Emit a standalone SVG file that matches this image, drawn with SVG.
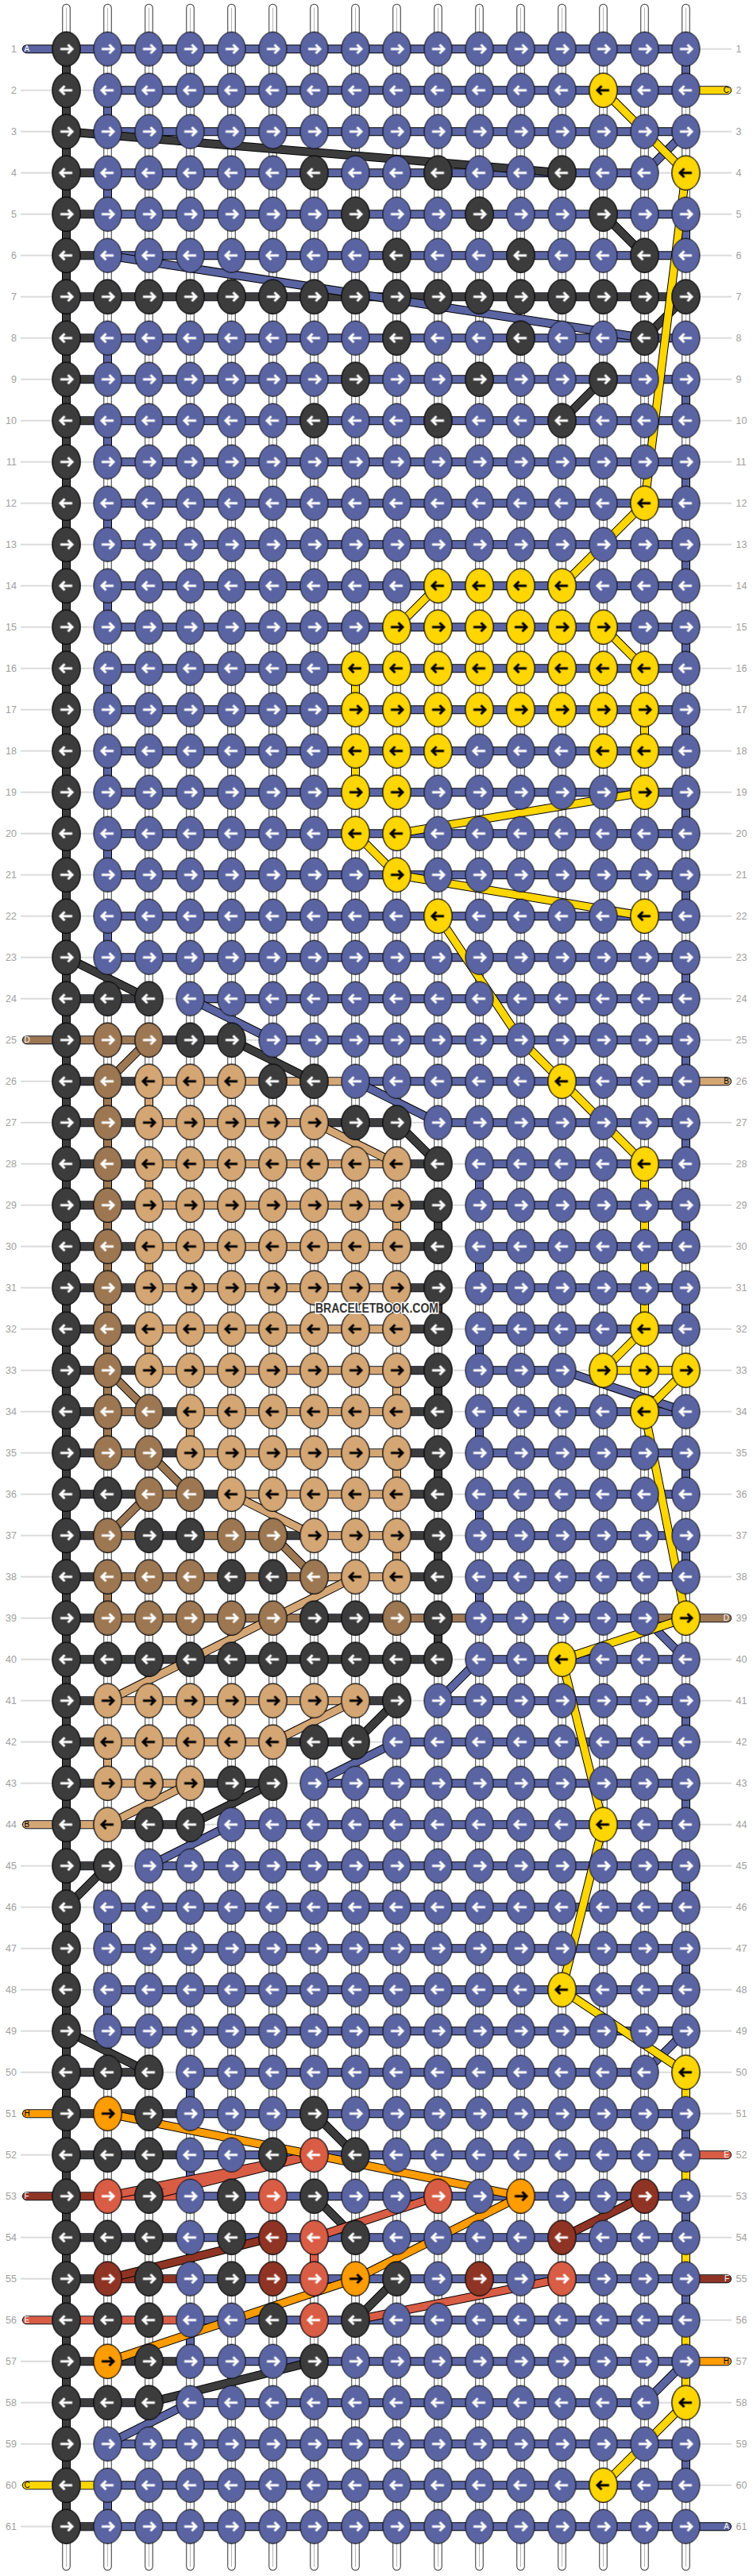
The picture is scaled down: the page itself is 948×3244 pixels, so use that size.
<svg xmlns="http://www.w3.org/2000/svg" xmlns:xlink="http://www.w3.org/1999/xlink" width="948" height="3244" viewBox="0 0 948 3244">
<style>
.lb{font-family:"Liberation Sans",Arial,sans-serif;font-size:12.5px;fill:#a0a0a0}
.el{font-family:"Liberation Sans",Arial,sans-serif;font-size:10px;fill:#000}
.w{fill:#fff}
.r{text-anchor:end}
.th{fill:none;stroke-linecap:round;stroke-linejoin:round}
</style>
<defs>
<g id="e2"><ellipse cx="26" cy="26" rx="17.5" ry="21.5"/><ellipse cx="26" cy="78" rx="17.5" ry="21.5"/></g>
<path id="ar" fill="none" stroke-width="3" stroke-linejoin="miter" d="M18.5 26H33M28 20.5L33.5 26L28 31.5M33.5 78H19M24 72.5L18.5 78L24 83.5"/>
<pattern id="pA" width="52" height="104" patternUnits="userSpaceOnUse"><use href="#e2" fill="#5a64a2" stroke="#000"/><use href="#ar" stroke="#fff"/></pattern>
<pattern id="pd" width="52" height="104" patternUnits="userSpaceOnUse"><use href="#e2" fill="#3c3c3c" stroke="#000"/><use href="#ar" stroke="#fff"/></pattern>
<pattern id="py" width="52" height="104" patternUnits="userSpaceOnUse"><use href="#e2" fill="#ffd600" stroke="#000"/><use href="#ar" stroke="#000"/></pattern>
<pattern id="pt" width="52" height="104" patternUnits="userSpaceOnUse"><use href="#e2" fill="#d4a674" stroke="#000"/><use href="#ar" stroke="#000"/></pattern>
<pattern id="pD" width="52" height="104" patternUnits="userSpaceOnUse"><use href="#e2" fill="#9c7752" stroke="#000"/><use href="#ar" stroke="#fff"/></pattern>
<pattern id="pe" width="52" height="104" patternUnits="userSpaceOnUse"><use href="#e2" fill="#d95c45" stroke="#000"/><use href="#ar" stroke="#fff"/></pattern>
<pattern id="pf" width="52" height="104" patternUnits="userSpaceOnUse"><use href="#e2" fill="#8f3424" stroke="#000"/><use href="#ar" stroke="#fff"/></pattern>
<pattern id="ph" width="52" height="104" patternUnits="userSpaceOnUse"><use href="#e2" fill="#ff9c00" stroke="#000"/><use href="#ar" stroke="#000"/></pattern>
<pattern id="rl" width="52" height="52" patternUnits="userSpaceOnUse"><rect y="25.4" width="52" height="1.2" fill="#c4c4c4"/></pattern>
<path id="vs" d="M26 -25.7V3196.3M78 -25.7V3196.3M130 -25.7V3196.3M182 -25.7V3196.3M234 -25.7V3196.3M286 -25.7V3196.3M338 -25.7V3196.3M390 -25.7V3196.3M442 -25.7V3196.3M494 -25.7V3196.3M546 -25.7V3196.3M598 -25.7V3196.3M650 -25.7V3196.3M702 -25.7V3196.3M754 -25.7V3196.3M806 -25.7V3196.3"/>
<path id="hb" d="M-24 26H806M78 78H858M78 130H806M26 182H754M26 234H806M26 286H806M26 338H806M26 390H806M26 442H806M26 494H806M78 546H806M78 598H806M78 650H806M78 702H806M78 754H806M78 806H806M78 858H806M78 910H806M78 962H806M78 1014H806M78 1066H806M78 1118H806M78 1170H806M26 1222H130M182 1222H806M-24 1274H234M286 1274H806M26 1326H858M26 1378H442M494 1378H806M26 1430H494M546 1430H806M26 1482H494M546 1482H806M26 1534H494M546 1534H806M26 1586H494M546 1586H806M26 1638H494M546 1638H806M26 1690H494M546 1690H650M702 1690H806M26 1742H494M546 1742H806M26 1794H494M546 1794H806M26 1846H494M546 1846H806M26 1898H494M546 1898H806M26 1950H494M546 1950H806M26 2002H858M26 2054H494M546 2054H806M26 2106H442M494 2106H806M26 2158H390M442 2158H806M26 2210H286M338 2210H806M-24 2262H182M234 2262H806M26 2314H78M130 2314H806M78 2366H806M78 2418H806M78 2470H806M78 2522H806M26 2574H130M182 2574H754M-24 2626H806M26 2678H858M-24 2730H806M26 2782H806M26 2834H858M-24 2886H806M26 2938H858M26 2990H130M182 2990H754M78 3042H806M-24 3094H806M26 3146H858"/>
<path id="vd" d="M26 26V3146M494 1482V1534M494 1586V1638M494 1690V1742M494 1794V1846M494 1898V1950M494 2002V2054M26 130L650 182M702 234L754 286M806 338L754 390M702 442L650 494M26 1170L130 1222M234 1274L338 1326M442 1378L494 1430M390 2158L442 2106M182 2262L286 2210M78 2314L26 2366M26 2522L130 2574M338 2626L390 2678M338 2730L390 2782M442 2834L390 2886M338 2938L130 2990"/>
<path id="vt" d="M130 1326V1378M130 1430V1482M130 1534V1586M130 1638V1690M442 1482V1534M442 1586V1638M442 1690V1742M442 1794V1846M442 1898V1950M182 1742V1794M78 2158V2210M338 1378L442 1430M234 1846L338 1898M390 1950L78 2106M390 2106L286 2158M182 2210L78 2262"/>
<path id="vD" d="M78 1326V1794M78 1950V2002M130 1274L78 1326M78 1690L130 1742M130 1794L182 1846M130 1846L78 1898M286 1898L338 1950"/>
<path id="vb" d="M806 26V78M806 234V286M806 442V494M806 546V598M806 650V702M806 754V806M806 858V910M806 962V1014M806 1066V1118M806 1170V1222M806 1274V1326M806 1378V1430M806 1482V1534M806 1586V1638M806 1794V1846M806 1898V1950M806 2106V2158M806 2210V2262M806 2314V2366M806 2418V2470M806 2626V2678M806 2730V2782M806 2834V2886M806 3042V3094M78 78V130M78 182V234M78 390V442M78 494V546M78 598V650M78 702V754M78 806V858M78 910V962M78 1014V1066M78 1118V1170M78 2366V2418M78 2470V2522M78 3094V3146M546 1430V1482M546 1534V1586M546 1638V1690M546 1742V1794M546 1846V1898M546 1950V2002M182 2574V2626M182 2678V2730M182 2782V2834M182 2886V2938M806 130L754 182M78 286L754 390M182 1222L286 1274M390 1326L494 1378M650 1690L806 1742M754 2002L806 2054M546 2054L494 2106M442 2158L338 2210M234 2262L130 2314M806 2522L754 2574M806 2938L754 2990M182 2990L78 3042"/>
<path id="vy" d="M390 806V858M390 910V962M754 858V910M754 1430V1638M806 2574V2626M806 2678V2730M806 2782V2834M806 2886V2990M702 78L806 182L754 598L650 702M494 702L442 754M702 754L754 806M754 962L442 1014M390 1014L442 1066M442 1066L754 1118M494 1118L598 1274L754 1430M754 1638L702 1690M806 1690L754 1742L806 2002L650 2054L702 2262L650 2470L806 2574M806 2990L702 3094"/>
<path id="ve" d="M338 2782V2834M338 2678L78 2730M338 2678L130 2730M494 2730L338 2782M650 2834L390 2886"/>
<path id="vf" d="M754 2730L650 2782M286 2782L78 2834"/>
<path id="vh" d="M78 2626L598 2730L390 2834L78 2938"/>
</defs>
<rect width="948" height="3244" fill="#fff"/>
<g transform="translate(57.5 35.7)">
<rect id="rowlines" x="-31.5" y="0" width="895" height="3172" fill="url(#rl)"/>
<g id="strings" class="th">
<use href="#vs" stroke="#333" stroke-width="10.5"/>
<use href="#vs" stroke="#fff" stroke-width="8.5"/>
<use href="#vs" stroke="#b4b4b4" stroke-width="1"/>
</g>
<g id="connectors" class="th">
<use href="#hb" stroke="#000" stroke-width="11"/>
<use href="#hb" stroke="#5a64a2" stroke-width="9"/>
<path stroke="#3c3c3c" stroke-width="9" d="M26 182H78M26 234H78M26 286H78M26 338H806M26 390H78M26 442H78M26 494H78M26 1222H130M130 1274H234M26 1326H130M26 1378H130M338 1378H442M26 1430H130M442 1430H494M26 1482H130M442 1482H494M26 1534H130M442 1534H494M26 1586H130M442 1586H494M26 1638H130M442 1638H494M26 1690H130M442 1690H494M26 1742H78M130 1742H182M442 1742H494M26 1794H78M130 1794H182M442 1794H494M26 1846H130M182 1846H234M442 1846H494M26 1898H78M130 1898H182M286 1898H338M442 1898H494M26 1950H78M442 1950H494M26 2002H78M338 2002H442M26 2054H494M26 2106H78M390 2106H442M26 2158H78M286 2158H390M26 2210H78M182 2210H286M78 2262H182M26 2314H78M26 2574H130M26 2626H182M26 2678H182M26 2782H182M26 2834H78M26 2938H182M26 2990H130M26 3146H78"/>
<path stroke="#d4a674" stroke-width="9" d="M130 1326H390M806 1326H858M130 1378H338M130 1430H442M130 1482H442M130 1534H442M130 1586H442M130 1638H442M130 1690H442M182 1742H442M182 1794H442M234 1846H442M338 1898H442M338 1950H442M78 2106H390M78 2158H286M78 2210H182M-24 2262H78"/>
<path stroke="#9c7752" stroke-width="9" d="M-24 1274H130M78 1742H130M78 1794H130M130 1846H182M78 1898H130M182 1898H286M78 1950H338M78 2002H338M442 2002H546M754 2002H858"/>
<path stroke="#ffd600" stroke-width="9" d="M806 78H858M702 1690H806M-24 3094H78"/>
<path stroke="#ff9c00" stroke-width="9" d="M-24 2626H26M806 2938H858"/>
<path stroke="#d95c45" stroke-width="9" d="M806 2678H858M78 2730H182M-24 2886H182"/>
<path stroke="#8f3424" stroke-width="9" d="M-24 2730H78M78 2834H182M806 2834H858"/>
<use href="#vd" stroke="#000" stroke-width="11"/><use href="#vd" stroke="#3c3c3c" stroke-width="9"/>
<use href="#vt" stroke="#000" stroke-width="11"/><use href="#vt" stroke="#d4a674" stroke-width="9"/>
<use href="#vD" stroke="#000" stroke-width="11"/><use href="#vD" stroke="#9c7752" stroke-width="9"/>
<use href="#vb" stroke="#000" stroke-width="11"/><use href="#vb" stroke="#5a64a2" stroke-width="9"/>
<use href="#vy" stroke="#000" stroke-width="11"/><use href="#vy" stroke="#ffd600" stroke-width="9"/>
<use href="#ve" stroke="#000" stroke-width="11"/><use href="#ve" stroke="#d95c45" stroke-width="9"/>
<use href="#vf" stroke="#000" stroke-width="11"/><use href="#vf" stroke="#8f3424" stroke-width="9"/>
<use href="#vh" stroke="#000" stroke-width="11"/><use href="#vh" stroke="#ff9c00" stroke-width="9"/>
</g>
<g id="knots">
<rect width="832" height="3172" fill="url(#pA)"/>
<g id="knots-dark" fill="url(#pd)">
<rect width="52" height="3172"/>
<rect x="312" y="156" width="52" height="52"/><rect x="468" y="156" width="52" height="52"/><rect x="624" y="156" width="52" height="52"/>
<rect x="364" y="208" width="52" height="52"/><rect x="520" y="208" width="52" height="52"/><rect x="676" y="208" width="52" height="52"/>
<rect x="416" y="260" width="52" height="52"/><rect x="572" y="260" width="52" height="52"/><rect x="728" y="260" width="52" height="52"/>
<rect x="52" y="312" width="780" height="52"/>
<rect x="416" y="364" width="52" height="52"/><rect x="572" y="364" width="52" height="52"/><rect x="728" y="364" width="52" height="52"/>
<rect x="364" y="416" width="52" height="52"/><rect x="520" y="416" width="52" height="52"/><rect x="676" y="416" width="52" height="52"/>
<rect x="312" y="468" width="52" height="52"/><rect x="468" y="468" width="52" height="52"/><rect x="624" y="468" width="52" height="52"/>
<rect x="52" y="1196" width="104" height="52"/>
<rect x="156" y="1248" width="104" height="52"/>
<rect x="260" y="1300" width="104" height="52"/>
<rect x="364" y="1352" width="104" height="52"/>
<rect x="468" y="1404" width="52" height="676"/>
<rect x="52" y="1820" width="52" height="52"/>
<rect x="104" y="1872" width="104" height="52"/>
<rect x="208" y="1924" width="104" height="52"/>
<rect x="312" y="1976" width="104" height="52"/>
<rect x="52" y="2028" width="416" height="52"/>
<rect x="416" y="2080" width="52" height="52"/>
<rect x="312" y="2132" width="104" height="52"/>
<rect x="208" y="2184" width="104" height="52"/>
<rect x="104" y="2236" width="104" height="52"/>
<rect x="52" y="2288" width="52" height="52"/>
<rect x="104" y="2548" width="52" height="468"/>
<rect x="52" y="2548" width="52" height="52"/><rect x="52" y="2652" width="52" height="52"/><rect x="52" y="2756" width="52" height="52"/><rect x="52" y="2860" width="52" height="52"/><rect x="52" y="2964" width="52" height="52"/>
<rect x="312" y="2600" width="52" height="52"/>
<rect x="260" y="2652" width="52" height="52"/><rect x="364" y="2652" width="52" height="52"/>
<rect x="312" y="2704" width="52" height="52"/>
<rect x="208" y="2704" width="52" height="156"/>
<rect x="364" y="2756" width="52" height="52"/>
<rect x="416" y="2808" width="52" height="52"/>
<rect x="260" y="2860" width="52" height="52"/><rect x="364" y="2860" width="52" height="52"/>
<rect x="312" y="2912" width="52" height="52"/>
</g>
<g id="knots-yellow" fill="url(#py)">
<rect x="676" y="52" width="52" height="52"/><rect x="780" y="156" width="52" height="52"/><rect x="728" y="572" width="52" height="52"/>
<rect x="468" y="676" width="208" height="52"/><rect x="416" y="728" width="312" height="52"/><rect x="364" y="780" width="416" height="104"/>
<rect x="364" y="884" width="104" height="156"/><rect x="468" y="884" width="52" height="52"/><rect x="676" y="884" width="104" height="52"/><rect x="728" y="936" width="52" height="52"/>
<rect x="416" y="1040" width="52" height="52"/><rect x="468" y="1092" width="52" height="52"/><rect x="728" y="1092" width="52" height="52"/>
<rect x="624" y="1300" width="52" height="52"/><rect x="728" y="1404" width="52" height="52"/><rect x="728" y="1612" width="52" height="52"/>
<rect x="676" y="1664" width="156" height="52"/><rect x="728" y="1716" width="52" height="52"/><rect x="780" y="1976" width="52" height="52"/>
<rect x="624" y="2028" width="52" height="52"/><rect x="676" y="2236" width="52" height="52"/><rect x="624" y="2444" width="52" height="52"/>
<rect x="780" y="2548" width="52" height="52"/><rect x="780" y="2964" width="52" height="52"/><rect x="676" y="3068" width="52" height="52"/>
</g>
<g id="knots-tan" fill="url(#pt)">
<rect x="104" y="1300" width="156" height="52"/><rect x="104" y="1352" width="260" height="52"/><rect x="104" y="1404" width="364" height="312"/>
<rect x="156" y="1716" width="312" height="104"/><rect x="208" y="1820" width="260" height="52"/><rect x="312" y="1872" width="156" height="52"/>
<rect x="364" y="1924" width="104" height="52"/><rect x="52" y="2080" width="364" height="52"/><rect x="52" y="2132" width="260" height="52"/>
<rect x="52" y="2184" width="156" height="52"/><rect x="52" y="2236" width="52" height="52"/>
</g>
<g id="knots-brown" fill="url(#pD)">
<rect x="52" y="1248" width="104" height="52"/><rect x="52" y="1300" width="52" height="520"/><rect x="104" y="1716" width="52" height="104"/>
<rect x="104" y="1820" width="104" height="52"/><rect x="52" y="1872" width="52" height="52"/><rect x="208" y="1872" width="104" height="52"/>
<rect x="52" y="1924" width="156" height="52"/><rect x="312" y="1924" width="52" height="52"/><rect x="52" y="1976" width="260" height="52"/>
<rect x="416" y="1976" width="52" height="52"/>
</g>
<g id="knots-salmon" fill="url(#pe)">
<rect x="312" y="2652" width="52" height="52"/><rect x="52" y="2704" width="52" height="52"/><rect x="260" y="2704" width="52" height="52"/>
<rect x="468" y="2704" width="52" height="52"/><rect x="312" y="2756" width="52" height="156"/><rect x="624" y="2808" width="52" height="52"/>
</g>
<g id="knots-red" fill="url(#pf)">
<rect x="728" y="2704" width="52" height="52"/><rect x="260" y="2756" width="52" height="104"/><rect x="624" y="2756" width="52" height="52"/>
<rect x="52" y="2808" width="52" height="52"/><rect x="520" y="2808" width="52" height="52"/>
</g>
<g id="knots-orange" fill="url(#ph)">
<rect x="52" y="2600" width="52" height="52"/><rect x="572" y="2704" width="52" height="52"/><rect x="364" y="2808" width="52" height="52"/><rect x="52" y="2912" width="52" height="52"/>
</g>
</g>
<g id="end-labels" class="el">
<text x="-27" y="29.5" class="w">A</text>
<text x="860.5" y="3149.5" class="w r">A</text>
<text x="860.5" y="81.5" class="r">C</text>
<text x="-27" y="3097.5">C</text>
<text x="-27" y="1277.5" class="w">D</text>
<text x="860.5" y="2005.5" class="w r">D</text>
<text x="860.5" y="1329.5" class="r">B</text>
<text x="-27" y="2265.5">B</text>
<text x="-27" y="2629.5">H</text>
<text x="860.5" y="2941.5" class="r">H</text>
<text x="860.5" y="2681.5" class="w r">E</text>
<text x="-27" y="2889.5" class="w">E</text>
<text x="-27" y="2733.5" class="w">F</text>
<text x="860.5" y="2837.5" class="w r">F</text>
</g>
<text id="watermark" x="417" y="1617" font-family="Liberation Sans, Arial, sans-serif" font-weight="bold" font-size="16" fill="#333" stroke="#fff" stroke-width="3" paint-order="stroke" text-anchor="middle" textLength="155" lengthAdjust="spacingAndGlyphs">BRACELETBOOK.COM</text>
<g id="row-labels-left" class="lb r">
<text x="-36.5" y="30">1</text><text x="-36.5" y="82">2</text><text x="-36.5" y="134">3</text><text x="-36.5" y="186">4</text><text x="-36.5" y="238">5</text><text x="-36.5" y="290">6</text><text x="-36.5" y="342">7</text><text x="-36.5" y="394">8</text><text x="-36.5" y="446">9</text><text x="-36.5" y="498">10</text>
<text x="-36.5" y="550">11</text><text x="-36.5" y="602">12</text><text x="-36.5" y="654">13</text><text x="-36.5" y="706">14</text><text x="-36.5" y="758">15</text><text x="-36.5" y="810">16</text><text x="-36.5" y="862">17</text><text x="-36.5" y="914">18</text><text x="-36.5" y="966">19</text><text x="-36.5" y="1018">20</text>
<text x="-36.5" y="1070">21</text><text x="-36.5" y="1122">22</text><text x="-36.5" y="1174">23</text><text x="-36.5" y="1226">24</text><text x="-36.5" y="1278">25</text><text x="-36.5" y="1330">26</text><text x="-36.5" y="1382">27</text><text x="-36.5" y="1434">28</text><text x="-36.5" y="1486">29</text><text x="-36.5" y="1538">30</text>
<text x="-36.5" y="1590">31</text><text x="-36.5" y="1642">32</text><text x="-36.5" y="1694">33</text><text x="-36.5" y="1746">34</text><text x="-36.5" y="1798">35</text><text x="-36.5" y="1850">36</text><text x="-36.5" y="1902">37</text><text x="-36.5" y="1954">38</text><text x="-36.5" y="2006">39</text><text x="-36.5" y="2058">40</text>
<text x="-36.5" y="2110">41</text><text x="-36.5" y="2162">42</text><text x="-36.5" y="2214">43</text><text x="-36.5" y="2266">44</text><text x="-36.5" y="2318">45</text><text x="-36.5" y="2370">46</text><text x="-36.5" y="2422">47</text><text x="-36.5" y="2474">48</text><text x="-36.5" y="2526">49</text><text x="-36.5" y="2578">50</text>
<text x="-36.5" y="2630">51</text><text x="-36.5" y="2682">52</text><text x="-36.5" y="2734">53</text><text x="-36.5" y="2786">54</text><text x="-36.5" y="2838">55</text><text x="-36.5" y="2890">56</text><text x="-36.5" y="2942">57</text><text x="-36.5" y="2994">58</text><text x="-36.5" y="3046">59</text><text x="-36.5" y="3098">60</text>
<text x="-36.5" y="3150">61</text>
</g>
<g id="row-labels-right" class="lb">
<text x="869" y="30">1</text><text x="869" y="82">2</text><text x="869" y="134">3</text><text x="869" y="186">4</text><text x="869" y="238">5</text><text x="869" y="290">6</text><text x="869" y="342">7</text><text x="869" y="394">8</text><text x="869" y="446">9</text><text x="869" y="498">10</text>
<text x="869" y="550">11</text><text x="869" y="602">12</text><text x="869" y="654">13</text><text x="869" y="706">14</text><text x="869" y="758">15</text><text x="869" y="810">16</text><text x="869" y="862">17</text><text x="869" y="914">18</text><text x="869" y="966">19</text><text x="869" y="1018">20</text>
<text x="869" y="1070">21</text><text x="869" y="1122">22</text><text x="869" y="1174">23</text><text x="869" y="1226">24</text><text x="869" y="1278">25</text><text x="869" y="1330">26</text><text x="869" y="1382">27</text><text x="869" y="1434">28</text><text x="869" y="1486">29</text><text x="869" y="1538">30</text>
<text x="869" y="1590">31</text><text x="869" y="1642">32</text><text x="869" y="1694">33</text><text x="869" y="1746">34</text><text x="869" y="1798">35</text><text x="869" y="1850">36</text><text x="869" y="1902">37</text><text x="869" y="1954">38</text><text x="869" y="2006">39</text><text x="869" y="2058">40</text>
<text x="869" y="2110">41</text><text x="869" y="2162">42</text><text x="869" y="2214">43</text><text x="869" y="2266">44</text><text x="869" y="2318">45</text><text x="869" y="2370">46</text><text x="869" y="2422">47</text><text x="869" y="2474">48</text><text x="869" y="2526">49</text><text x="869" y="2578">50</text>
<text x="869" y="2630">51</text><text x="869" y="2682">52</text><text x="869" y="2734">53</text><text x="869" y="2786">54</text><text x="869" y="2838">55</text><text x="869" y="2890">56</text><text x="869" y="2942">57</text><text x="869" y="2994">58</text><text x="869" y="3046">59</text><text x="869" y="3098">60</text>
<text x="869" y="3150">61</text>
</g>
</g>
</svg>
